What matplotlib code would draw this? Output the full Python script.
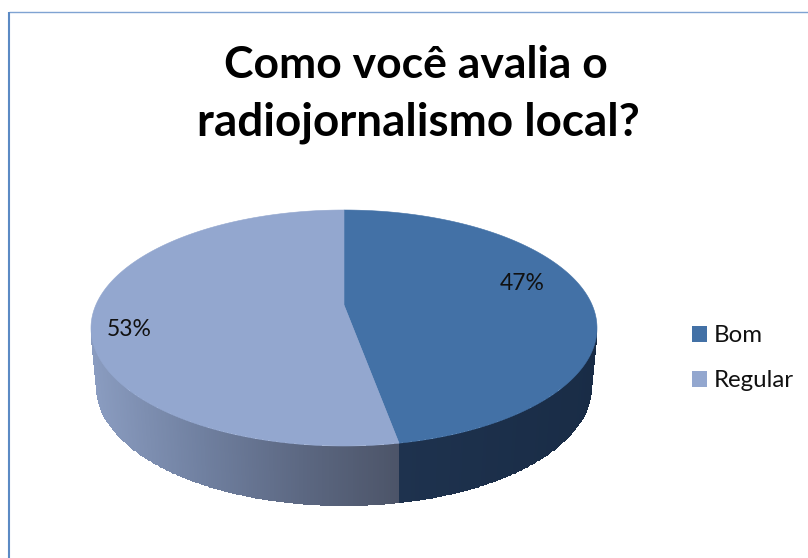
import numpy as np
import matplotlib
matplotlib.use("Agg")
import matplotlib.pyplot as plt
from matplotlib.patches import Patch

title_lines = ["Como você avalia o", "radiojornalismo local?"]
categories = ["Bom", "Regular"]
values = [46.51, 53.49]
colors = ["#4371a6", "#93a7cf"]

plt.rcParams["font.family"] = ["Lato", "DejaVu Sans"]
fig = plt.figure(figsize=(8.08, 5.58), dpi=100)
ax = fig.add_axes([0, 0, 1, 1])
ax.set_xlim(0, 808)
ax.set_ylim(558, 0)
ax.axis("off")

# frame
ax.plot([808, 8.5], [11.5, 11.5], color="#7fa3d2", lw=1.0, solid_capstyle="butt")
ax.plot([8.5, 8.5], [11.5, 558], color="#5b8ac4", lw=1.5, solid_capstyle="butt")

cx, cy, rx, ry = 344, 328, 253, 118
apex_y = 305
bx, by, brx, bry = 344, 388, 247, 118

fracs = np.array(values) / sum(values)
edges = np.concatenate([[0], np.cumsum(fracs)]) * 2 * np.pi  # clockwise from top


def top(t):
    return cx + rx * np.sin(t), cy - ry * np.cos(t)


def bot(t):
    return bx + brx * np.sin(t), by - bry * np.cos(t)


# side wall
bom_x = [400, 600]
bom_rgb = np.array([[30, 50, 78], [25, 44, 70]]) / 255
reg_x = [91, 200, 300, 400]
reg_rgb = np.array([[138, 156, 192], [112, 128, 160], [92, 104, 130], [76, 84, 104]]) / 255
ts = np.unique(np.r_[np.linspace(np.pi / 2, 3 * np.pi / 2, 361), edges[1]])
X = np.vstack([top(ts)[0], bot(ts)[0]])
Y = np.vstack([top(ts)[1], bot(ts)[1]])
mid = (ts[:-1] + ts[1:]) / 2
xm = top(mid)[0]
rgb = np.zeros((1, len(mid), 3))
for i in range(3):
    rgb[0, :, i] = np.where(mid < edges[1],
                            np.interp(xm, bom_x, bom_rgb[:, i]),
                            np.interp(xm, reg_x, reg_rgb[:, i]))
ax.pcolormesh(X, Y, rgb, shading="flat", antialiased=False, linewidth=0, zorder=2)

# top faces
for i in range(2):
    t = np.linspace(edges[i], edges[i + 1], 300)
    px, py = top(t)
    ax.fill(np.r_[cx, px], np.r_[apex_y, py], color=colors[i], lw=0.4, zorder=3)

# percentage labels
label_pos = [(522, 284), (129, 329)]
for v, (x, y) in zip(fracs, label_pos):
    ax.text(x, y, f"{v*100:.0f}%", ha="center", va="center", fontsize=16.5, color="#111111", zorder=5)

for line, y, x, fs in zip(title_lines, [65, 123], [416, 418], [32, 33]):
    ax.text(x, y, line, ha="center", va="center", fontsize=fs, fontweight="bold", color="black")

handles = [Patch(facecolor=c, edgecolor="none", label=n) for c, n in zip(colors, categories)]
ax.legend(handles=handles, loc="center left", bbox_to_anchor=(680, 358),
          bbox_transform=ax.transData, frameon=False, fontsize=17.3, labelcolor="#111111",
          handlelength=0.62, handleheight=0.65, handletextpad=0.29, labelspacing=1.0,
          borderpad=0.5, borderaxespad=0)

fig.savefig("out.png", dpi=100, facecolor="white")
